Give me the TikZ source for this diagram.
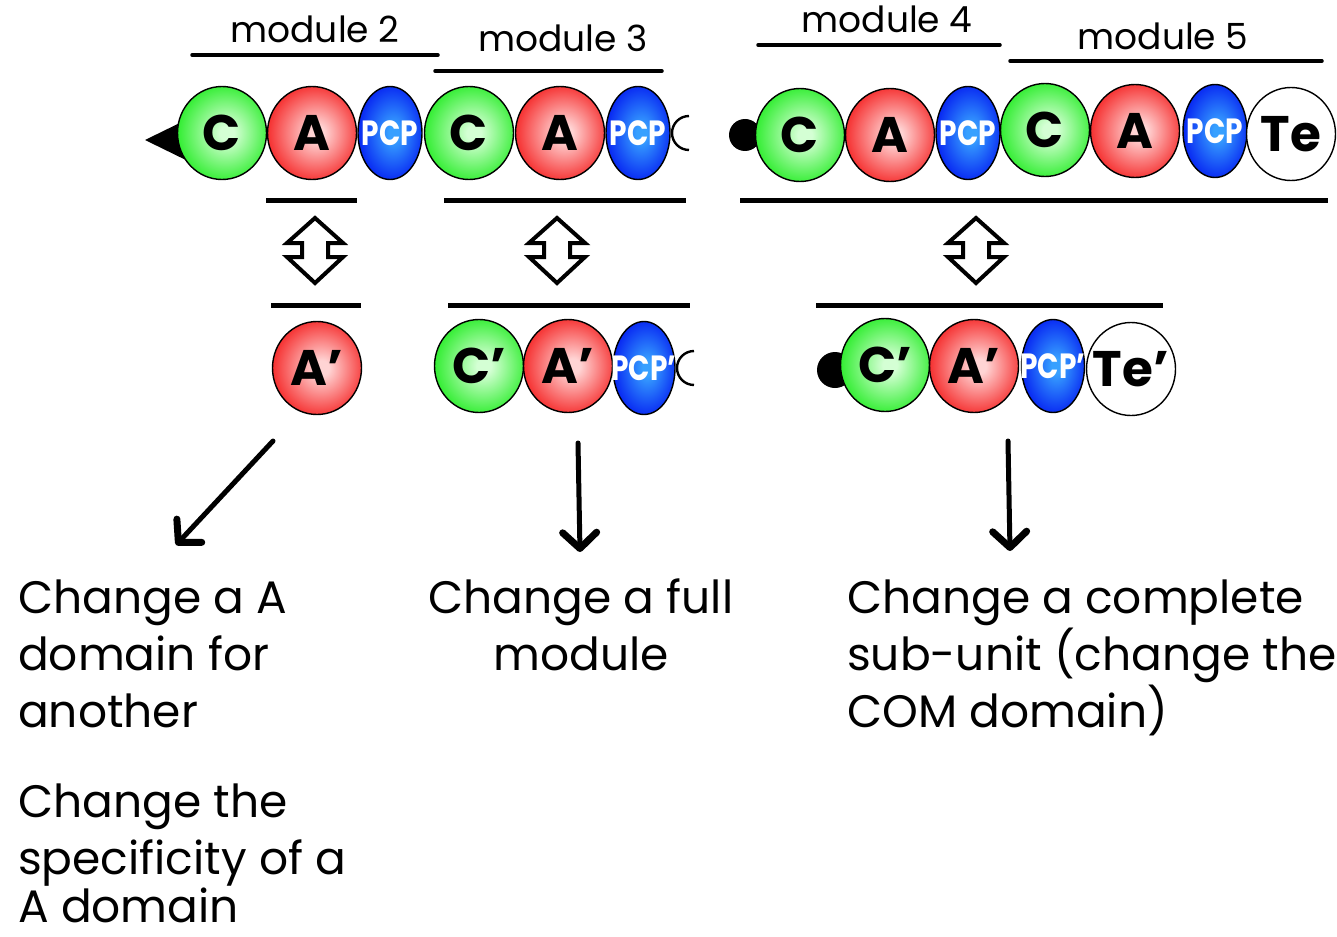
\documentclass[tikz,border=0pt]{standalone}
\usepackage{fontspec}
\setmainfont{Poppins}
\usetikzlibrary{shapes.geometric,arrows.meta}

% domain colours
\definecolor{gEdge}{RGB}{25,235,25}
\definecolor{gMid}{RGB}{212,255,212}
\definecolor{rEdge}{RGB}{244,22,22}
\definecolor{rMid}{RGB}{255,212,212}
\definecolor{bEdge}{RGB}{0,20,240}
\definecolor{bMid}{RGB}{55,160,255}

\pgfdeclareradialshading{greenball}{\pgfpoint{3bp}{0bp}}{color(0bp)=(gMid); color(4bp)=(gMid); color(30bp)=(gEdge); color(50bp)=(gEdge)}
\pgfdeclareradialshading{redball}{\pgfpoint{3bp}{0bp}}{color(0bp)=(rMid); color(4bp)=(rMid); color(30bp)=(rEdge); color(50bp)=(rEdge)}
\pgfdeclareradialshading{blueball}{\pgfpoint{3bp}{0bp}}{color(0bp)=(bMid); color(4bp)=(bMid); color(30bp)=(bEdge); color(50bp)=(bEdge)}

\tikzset{
  dom/.style={ellipse, draw=black, line width=1.4pt, inner sep=0pt,
              minimum width=89pt, minimum height=93pt},
  cdom/.style={dom, shade, shading=greenball},
  adom/.style={dom, shade, shading=redball},
  pdom/.style={dom, shade, shading=blueball, minimum width=64pt},
  tdom/.style={dom, fill=white},
  dlab/.style={inner sep=0pt, text=black, font=\bfseries\fontsize{50}{50}\selectfont},
  plab/.style={inner sep=0pt, text=white, font=\bfseries\fontsize{35}{35}\selectfont},
  modlab/.style={anchor=base, inner sep=0pt, font=\fontsize{36}{36}\selectfont},
  uline/.style={line width=3.5pt, line cap=round},
  bar/.style={line width=5pt},
  desc/.style={inner sep=0pt, font=\fontsize{45.5}{57}\selectfont},
  pointer/.style={line width=5pt, line cap=round, line join=round,
                  -{Straight Barb[length=16pt,width=34pt,line width=7pt,line cap=round,line join=round]}},
  endarc/.style={line width=2.4pt},
  pics/swaparrow/.style={code={
    \draw[line width=4pt, line join=miter, fill=white]
      (0,-32.5) -- (28,-7.5) -- (13,-7.5) -- (13,6.5) -- (28,6.5) -- (0,32.5)
      -- (-28,6.5) -- (-13,6.5) -- (-13,-7.5) -- (-28,-7.5) -- cycle;
  }}
}

\newcommand\pcptext[1]{\scalebox{0.8}[1]{#1}}

\begin{document}
\begin{tikzpicture}[x=1pt,y=-1pt]
\useasboundingbox (0,0) rectangle (1337,936);

% ---- module labels ----
\node[modlab] (m2) at (315,43) {module 2};
\node[modlab] (m3) at (563,52) {module 3};
\node[modlab] (m4) at (887,33) {module 4};
\node[modlab] (m5) at (1163,50) {module 5};
\draw[uline] (192,55) -- (438,55);
\draw[uline] (435,71) -- (662,71);
\draw[uline] (758,45) -- (1000,45);
\draw[uline] (1010,61) -- (1322,61);

% ---- first sub-unit (modules 2-3) ----
\fill (145,140) -- (192,117) -- (192,163) -- cycle;
\node[cdom, label={[dlab]center:C}] (c1) at (222,133) {};
\node[adom, label={[dlab]center:A}] (a1) at (312,133) {};
\node[pdom, label={[plab]center:\pcptext{PCP}}] (p1) at (390,133) {};
\node[cdom, label={[dlab]center:C}] (c2) at (469,133) {};
\node[adom, label={[dlab]center:A}] (a2) at (560,133) {};
\node[pdom, label={[plab]center:\pcptext{PCP}}] (p2) at (638,133) {};
\draw[endarc] (689,150) arc[start angle=90, end angle=270, radius=17];

% ---- second sub-unit (modules 4-5) ----
\fill (745,135) circle[radius=16];
\node[cdom, label={[dlab]center:C}] (c3) at (800,135) {};
\node[adom, label={[dlab]center:A}] (a3) at (890,135) {};
\node[pdom, label={[plab]center:\pcptext{PCP}}] (p3) at (968,133) {};
\node[cdom, label={[dlab]center:C}] (c4) at (1045,130) {};
\node[adom, label={[dlab]center:A}] (a4) at (1135,131) {};
\node[pdom, label={[plab]center:\pcptext{PCP}}] (p4) at (1215,131) {};
\node[tdom, label={[dlab]center:Te}] (te) at (1291,134) {};

% ---- selection bars ----
\draw[bar] (266,200) -- (357,200);
\draw[bar] (444,200) -- (686,200);
\draw[bar] (740,200) -- (1328,200);
\draw[bar] (271,305) -- (361,305);
\draw[bar] (448,305) -- (690,305);
\draw[bar] (816,305) -- (1163,305);

% ---- exchange arrows ----
\pic at (315,250.5) {swaparrow};
\pic at (557,250.5) {swaparrow};
\pic at (976,250.5) {swaparrow};

% ---- replacement parts ----
\node[adom, label={[dlab]center:A’}] (na) at (317,368) {};

\node[cdom, label={[dlab]center:C’}] (nc2) at (479,366) {};
\node[adom, label={[dlab]center:A’}] (na2) at (568,366) {};
\node[pdom, minimum width=62pt, label={[plab]center:\pcptext{PCP’}}] (np2) at (644,368) {};
\draw[endarc] (694,385) arc[start angle=90, end angle=270, radius=17];

\fill (835,370) circle[radius=18];
\node[cdom, label={[dlab]center:C’}] (nc3) at (885,365) {};
\node[adom, label={[dlab]center:A’}] (na3) at (974,366) {};
\node[pdom, minimum width=63pt, label={[plab]center:\pcptext{PCP’}}] (np3) at (1053,366) {};
\node[tdom, label={[dlab]center:Te’}] (nte) at (1131,369) {};

% ---- pointers to the descriptions ----
\coordinate (s1) at (273,441);
\coordinate (e1) at (176,545);
\coordinate (s2) at (578,443);
\coordinate (e2) at (580,552);
\coordinate (s3) at (1008,441);
\coordinate (e3) at (1010,551);
\draw[pointer] (s1) -- (e1);
\draw[pointer] (s2) -- (e2);
\draw[pointer] (s3) -- (e3);

% ---- descriptions ----
\node[desc, anchor=base west] (d1a) at (18,613) {Change a A};
\node[desc, anchor=base west] (d1b) at (18,670) {domain for};
\node[desc, anchor=base west] (d1c) at (18,727) {another};
\node[desc, anchor=base west] (d1d) at (18,817) {Change the};
\node[desc, anchor=base west] (d1e) at (18,874) {specificity of a};
\node[desc, anchor=base west] (d1f) at (18,922) {A domain};

\node[desc, anchor=base] (d2a) at (581,613) {Change a full};
\node[desc, anchor=base] (d2b) at (581,670) {module};

\node[desc, anchor=base west] (d3a) at (847,613) {Change a complete};
\node[desc, anchor=base west] (d3b) at (847,670) {sub-unit (change the};
\node[desc, anchor=base west] (d3c) at (847,727) {COM domain)};
\end{tikzpicture}
\end{document}
